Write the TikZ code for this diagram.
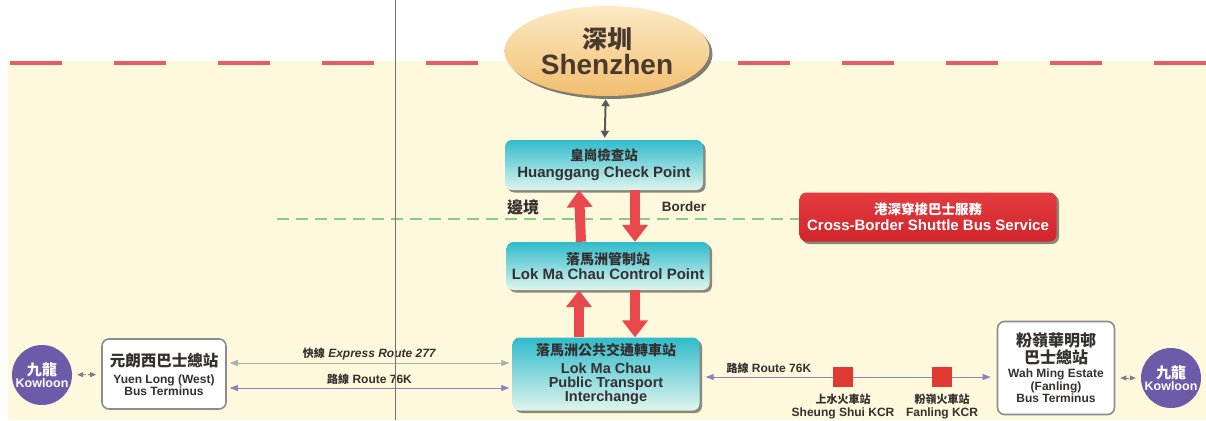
\documentclass[tikz,border=0pt]{standalone}
\usepackage{fontspec}
\setmainfont{Liberation Sans}
\newfontfamily\cjk{Noto Sans CJK TC}
\usetikzlibrary{shapes.geometric,arrows.meta,shadows,positioning}

\definecolor{paper}{HTML}{FEF9DD}
\definecolor{borderred}{HTML}{E65C62}
\definecolor{bordergreen}{HTML}{8CCB84}
\definecolor{cyantop}{HTML}{30BBCB}
\definecolor{cyanbot}{HTML}{DFF5EE}
\definecolor{arrowred}{HTML}{E9484C}
\definecolor{shuttop}{HTML}{E43C40}
\definecolor{shutbot}{HTML}{D0252B}
\definecolor{kowpurple}{HTML}{6B5BA8}
\definecolor{routepurple}{HTML}{8985BB}
\definecolor{routegreen}{HTML}{9FB7A9}
\definecolor{kcrred}{HTML}{E03A33}
\definecolor{textdark}{HTML}{353030}
\definecolor{szbrown}{HTML}{4A3A2D}
\definecolor{sztop}{HTML}{FCEAC4}
\definecolor{szbot}{HTML}{F2BE70}
\definecolor{boxgray}{HTML}{8C8C8C}

\begin{document}
\begin{tikzpicture}[x=1pt, y=-1pt, >={Triangle[width=6pt,length=8pt]}, font=\bfseries]
  \tikzstyle{cbox}=[rectangle, rounded corners=7pt, top color=cyantop, bottom color=cyanbot, text=textdark, align=center, inner sep=2pt,
    drop shadow={shadow xshift=2.5pt, shadow yshift=-2.5pt, fill=black, opacity=0.45}]
  \tikzstyle{wbox}=[rectangle, rounded corners=7pt, draw=boxgray, line width=1.6pt, fill=white, text=textdark, align=center, inner sep=2pt]
  \tikzstyle{kowloon}=[circle, fill=kowpurple, text=white, align=center, minimum size=60pt, inner sep=0pt]
  \tikzstyle{kcr}=[rectangle, fill=kcrred, minimum size=20pt, inner sep=0pt]
  \tikzstyle{kcrlabel}=[align=center, text=textdark, font=\bfseries\fontsize{12}{13}\selectfont, inner sep=0pt]
  \tikzstyle{bigarrow}=[-{Triangle[width=25pt,length=17pt]}, line width=10pt, draw=arrowred]
  \tikzstyle{route}=[<->, line width=0.8pt, shorten <=3pt, shorten >=3pt]
  \tikzstyle{kdash}=[{Triangle[width=5pt,length=6pt]}-{Triangle[width=5pt,length=6pt]}, dash pattern=on 3pt off 2pt, draw=gray, line width=0.8pt, shorten <=5pt, shorten >=5pt]
  \tikzstyle{routelabel}=[text=textdark, font=\bfseries\fontsize{12}{13}\selectfont, inner sep=2pt]

  \useasboundingbox (0,0) rectangle (1206,420);
  \fill[paper] (8,61) rectangle (1206,420);

  % border lines
  \coordinate (tl) at (10,63);
  \coordinate (tr) at (1206,63);
  \draw[borderred, line width=4.5pt, dash pattern=on 52pt off 52pt] (tl) -- (tr);

  % shenzhen and the two control points
  \node[ellipse, minimum width=205pt, minimum height=90pt, top color=sztop, bottom color=szbot, text=szbrown, align=center, inner sep=0pt,
    drop shadow={shadow xshift=3pt, shadow yshift=-3pt, fill=black, opacity=0.5}] (sz) at (607,51)
    {{\cjk\bfseries\fontsize{25}{27}\selectfont 深圳}\\[3pt]{\fontsize{28}{30}\selectfont Shenzhen}};
  \node[cbox, minimum width=198pt, minimum height=50pt, font=\bfseries\fontsize{15}{17}\selectfont] (hg) at (604,165)
    {{\cjk\bfseries\fontsize{13.5}{17}\selectfont 皇崗檢查站}\\Huanggang Check Point};
  \node[cbox, minimum width=203pt, minimum height=48pt, font=\bfseries\fontsize{15}{15}\selectfont] (lm) at (608,266)
    {{\cjk\bfseries\fontsize{14}{15}\selectfont 落馬洲管制站}\\Lok Ma Chau Control Point};
  \node[cbox, minimum width=187pt, minimum height=73pt, font=\bfseries\fontsize{14.5}{14}\selectfont] (lmi) at (606,374)
    {{\cjk\bfseries\fontsize{14}{14}\selectfont 落馬洲公共交通轉車站}\\[4pt]Lok Ma Chau\\Public Transport\\Interchange};

  % shuttle bus
  \coordinate (bl) at (277,219);
  \node[rectangle, rounded corners=7pt, top color=shuttop, bottom color=shutbot, text=white, align=center, inner sep=2pt,
    minimum width=257pt, minimum height=49pt, font=\bfseries\fontsize{15}{16}\selectfont,
    drop shadow={shadow xshift=2.5pt, shadow yshift=-2.5pt, fill=black, opacity=0.45}] (sh) at (928,217)
    {{\cjk\bfseries\fontsize{13.5}{16}\selectfont 港深穿梭巴士服務}\\Cross-Border Shuttle Bus Service};
  \draw[bordergreen, line width=2pt, dash pattern=on 12pt off 7pt] (bl) -- (sh.west |- bl);
  \node[text=textdark, inner sep=0pt, font=\cjk\bfseries\fontsize{16}{16}\selectfont] (bj) at (523,207) {邊境};
  \node[text=textdark, inner sep=0pt, font=\bfseries\fontsize{13.5}{14}\selectfont] (bd) at (684,207) {Border};

  % terminals
  \node[wbox, minimum width=124pt, minimum height=70pt, font=\bfseries\fontsize{12}{12}\selectfont] (yl) at (164,374)
    {{\cjk\bfseries\fontsize{15.5}{16}\selectfont 元朗西巴士總站}\\[5pt]Yuen Long (West)\\Bus Terminus};
  \node[wbox, minimum width=117pt, minimum height=93pt, font=\bfseries\fontsize{12}{12.5}\selectfont] (wm) at (1056,368)
    {{\cjk\bfseries\fontsize{16}{22}\selectfont 粉嶺華明邨}\\{\cjk\bfseries\fontsize{16}{20}\selectfont 巴士總站}\\[2pt]Wah Ming Estate\\(Fanling)\\Bus Terminus};
  \node[kowloon] (kl) at (42,375)
    {{\cjk\bfseries\fontsize{15}{17}\selectfont 九龍}\\{\fontsize{12.5}{13}\selectfont Kowloon}};
  \node[kowloon] (kr) at (1171,378)
    {{\cjk\bfseries\fontsize{15}{17}\selectfont 九龍}\\{\fontsize{12.5}{13}\selectfont Kowloon}};

  % KCR stations
  \node[kcr] (ss) at (843,377) {};
  \node[kcr] (fl) at (942,377) {};
  \node[kcrlabel, below=7pt of ss] (ssl) {{\cjk\fontsize{11}{13}\selectfont 上水火車站}\\Sheung Shui KCR};
  \node[kcrlabel, below=7pt of fl] (fll) {{\cjk\fontsize{11}{13}\selectfont 粉嶺火車站}\\Fanling KCR};

  % connections
  \draw[<->, draw=black!65, line width=2pt, >={Triangle[width=8pt,length=7pt]}, shorten <=3pt, shorten >=2pt] (sz) -- (hg);
  \draw[bigarrow] ([xshift=-27pt]lm.north) -- ([xshift=-25pt]hg.south);
  \draw[bigarrow] ([xshift=31pt]hg.south) -- ([xshift=27pt]lm.north);
  \draw[bigarrow] ([xshift=-27pt]lmi.north) -- ([xshift=-29pt]lm.south);
  \draw[bigarrow] ([xshift=27pt]lm.south) -- ([xshift=29pt]lmi.north);

  \path (yl.east |- 0,363) edge[route, draw=routegreen] node[routelabel, above=1pt] {{\cjk\fontsize{11}{13}\selectfont 快線} \textit{Express Route 277}} (lmi.west |- 0,363)
        (yl.east |- 0,388) edge[route, draw=routepurple] node[routelabel, above=1pt] {{\cjk\fontsize{11}{13}\selectfont 路線} Route 76K} (lmi.west |- 0,388);
  \draw[<-, draw=routepurple, line width=0.9pt, shorten <=6pt] (lmi.east |- ss) -- node[routelabel, above=1pt, pos=0.52] {{\cjk\fontsize{11}{13}\selectfont 路線} Route 76K} (ss);
  \draw[draw=routepurple, line width=0.9pt] (ss) -- (fl);
  \draw[->, draw=routepurple, line width=0.9pt, shorten >=6pt] (fl) -- (wm.west |- fl);

  \draw[kdash] (kl) -- (yl);
  \draw[kdash] (wm.east |- kr) -- (kr);

  % fold of the page
  \draw[black!55, line width=0.6pt] (395,0) -- (395,420);
\end{tikzpicture}
\end{document}
